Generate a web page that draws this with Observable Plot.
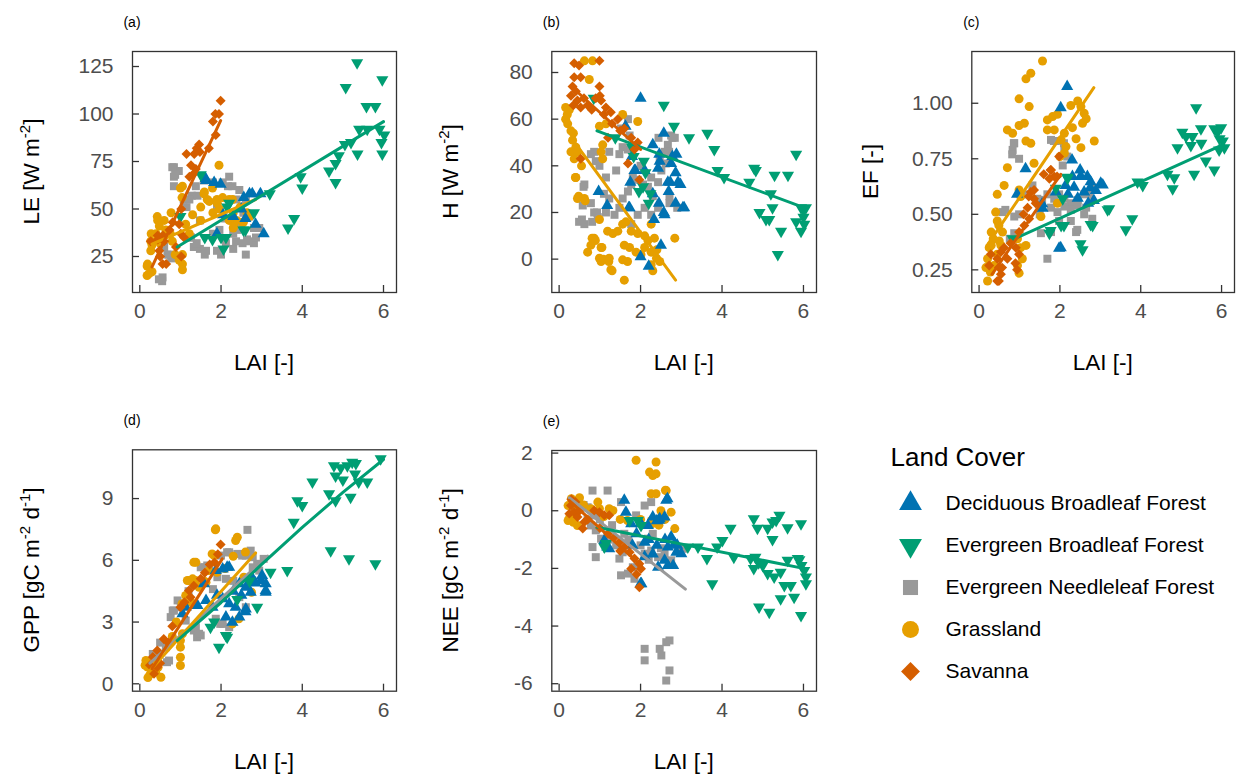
<!DOCTYPE html>
<html><head><meta charset="utf-8">
<script src="https://cdn.jsdelivr.net/npm/d3@7"></script>
<script src="https://cdn.jsdelivr.net/npm/@observablehq/plot@0.6"></script>
<style>
body{margin:0;background:#fff;}
#fig{position:relative;width:1236px;height:775px;font-family:"Liberation Sans",Arial,sans-serif;}
.cell{position:absolute;}
</style></head><body><div id="fig"></div>
<script>
// ---------- categories / styles ----------
const landCovers = ["Deciduous Broadleaf Forest","Evergreen Broadleaf Forest","Evergreen Needleleaf Forest","Grassland","Savanna"];
const coverColors = ["#0072B2","#009E73","#999999","#E69F00","#D55E00"];
const coverSymbols = ["triangle","triangle","square","circle","diamond2"];
const coverRotate = [0,180,0,0,0];
const drawOrder = [2,3,0,1,4];
const xTicks = [0,2,4,6];
const xDomain = [-0.18, 6.32];

// ---------- (a) LE ----------
const dbfLE = [[1.62,66],[1.63,65],[1.83,64],[1.99,63],[2.77,58],[2.97,58],[2.7,58],[2.56,56],[3.05,37],[1.9,37],[2.3,46],[2.5,50],[2.85,42],[2.05,47],[2.6,45]];
const ebfLE = [[5.35,127],[5.07,114],[5.97,118],[5.58,104],[5.8,104],[5.4,92],[5.6,92],[5.9,92],[6.02,89],[5.95,85],[5.97,79],[5.36,79],[5.2,85],[5.05,84],[3.96,67],[4.0,61],[4.66,70],[4.82,74],[4.82,64],[3.65,40],[3.8,45],[3.2,58],[2.81,48],[2.6,39],[2.15,51],[2.06,29],[1.6,35],[2.0,35],[1.0,46],[1.5,68],[2.2,53],[2.55,39],[1.79,34],[2.12,35],[4.9,78]];
const enfLE = [[0.84,72],[0.84,67],[0.84,62],[0.96,70],[0.8,72],[0.87,68],[1.58,65],[1.8,64],[2.2,67],[2.17,62],[2.04,64],[2.28,62],[2.45,60],[2.61,55],[1.08,55],[1.15,51],[1.38,62],[1.42,57],[1.28,57],[1.22,55],[1.48,44],[1.33,30],[1.48,29],[1.6,26],[1.9,28],[2.0,26],[2.3,29],[1.25,35],[1.4,32],[1.8,37],[1.96,39],[2.3,37],[2.4,39],[2.64,34],[2.81,32],[2.81,40],[2.7,46],[2.55,48],[2.38,55],[1.9,51],[0.55,12],[0.47,13],[0.68,26],[0.77,24],[0.6,30],[1.26,35],[1.63,28],[2.12,32],[2.37,33],[2.53,32],[2.69,33],[2.86,35],[2.94,40],[2.61,26],[0.72,26],[0.56,14],[2.1,45],[2.5,40]];
const graLE = [[0.18,15],[0.3,17],[0.18,20],[0.19,21],[0.23,16],[0.43,46],[0.6,44],[0.77,48],[1.0,61],[1.04,56],[1.05,62],[1.95,73],[1.58,58],[1.59,59],[1.66,55],[1.9,55],[1.3,47],[1.5,51],[1.8,48],[1.96,50],[2.3,48],[2.47,51],[2.64,48],[2.3,40],[2.38,44],[2.55,43],[2.2,55],[1.71,54],[1.91,53],[1.79,61],[2.04,56],[2.28,55],[2.2,44],[2.32,41],[2.53,43],[1.05,26],[1.05,21],[1.05,18],[0.87,26],[0.28,37],[0.4,37],[0.3,31],[0.5,32],[0.75,37],[1.13,42],[1.22,37],[0.44,44],[0.48,41],[0.64,39],[0.27,33],[0.27,28],[0.97,23],[0.8,33],[1.5,44],[2.7,46]];
const savLE = [[1.99,107],[1.95,100],[1.86,100],[1.8,96],[1.87,89],[1.7,82],[1.4,82],[1.48,80],[1.15,79],[1.34,79],[1.46,84],[1.38,71],[1.3,68],[1.26,73],[1.22,67],[1.02,50],[0.81,43],[0.73,39],[0.57,36],[0.97,42],[1.01,37],[0.6,33],[0.44,34],[0.27,33],[0.48,28],[0.56,21],[0.89,30],[1.09,35],[0.5,25],[0.65,21],[1.02,25],[0.44,36]];
const fitEbfLE = [[0.92,30],[6.0,96]];
const fitGraLE = [[0.3,31.5],[2.85,55]];
const fitSavLE = [[0.3,19.5],[1.99,96.5]];

// ---------- (b) H ----------
const dbfH = [[2.0,69],[2.57,54],[1.63,57],[2.3,49],[2.46,45],[2.78,44],[2.86,37],[2.98,32],[2.73,33],[2.69,29],[3.07,22],[2.86,24],[1.75,33],[1.87,38],[1.79,44],[0.97,29],[1.18,23],[1.71,22],[2.45,24],[2.57,20],[2.33,17],[2.0,1],[2.2,-3],[2.88,45],[2.75,41],[2.47,42],[2.43,39],[1.85,38],[2.1,38],[2.67,33],[2.92,33],[3.04,22],[2.59,19],[1.73,22],[2.5,6],[2.3,28]];
const ebfH = [[2.57,66],[2.82,57],[3.19,52],[3.64,54],[3.81,47],[3.89,38],[4.05,35],[4.67,33],[4.79,39],[4.83,38],[5.2,28],[5.29,36],[5.62,36],[5.82,45],[4.92,20],[5.08,17],[5.16,17],[5.24,22],[5.45,12],[5.37,2],[5.94,22],[6.06,22],[6.0,18],[5.82,16],[5.94,12],[6.02,15],[1.79,48],[1.83,44],[2.08,42],[2.12,37],[1.96,29],[2.24,28],[2.2,24],[0.85,69],[1.38,52],[2.06,31],[6.0,21]];
const enfH = [[1.69,60],[1.52,56],[1.73,53],[1.69,47],[0.86,46],[0.9,42],[0.99,40],[1.15,35],[0.62,32],[0.58,23],[0.49,16],[0.62,15],[0.78,24],[0.86,20],[0.95,18],[1.15,20],[1.23,26],[1.36,19],[1.48,22],[1.56,26],[1.69,29],[1.77,32],[1.81,35],[1.93,34],[2.06,32],[2.18,31],[2.26,35],[2.43,33],[2.51,38],[2.47,42],[2.59,46],[2.67,49],[2.75,53],[2.84,52],[2.1,22],[2.26,19],[2.43,22],[1.93,19],[1.77,15],[2.71,24],[2.71,27],[0.78,45],[1.23,46],[1.48,45],[1.56,48],[0.6,31],[0.56,17],[0.81,16],[0.93,20],[2.78,52],[2.7,46],[2.62,41],[2.9,22],[2.44,52],[2.0,40],[1.4,38],[1.1,28],[2.3,27]];
const graH = [[0.62,85],[0.82,85],[0.74,77],[0.16,65],[0.25,64],[0.16,60],[0.21,58],[0.29,55],[0.33,51],[0.41,48],[0.29,46],[0.37,43],[0.45,46],[0.41,35],[0.45,26],[0.62,26],[0.99,17],[1.07,49],[1.03,46],[1.07,43],[1.15,58],[0.99,57],[1.56,62],[1.93,59],[0.78,6],[0.86,9],[0.7,3],[1.03,5],[0.99,0.4],[1.03,-1],[1.23,0.4],[1.27,-4.5],[1.19,12],[1.32,11],[1.44,12],[1.56,15],[1.64,16],[1.77,12],[1.93,11],[1.6,6],[1.73,5],[1.89,3],[2.01,2],[1.56,-0.3],[1.68,-1],[2.1,10],[2.18,8],[2.26,15],[2.34,9],[2.26,3],[2.39,0.4],[2.47,-1],[2.26,-2.4],[2.3,-5],[2.84,9],[1.6,-9],[1.09,0],[1.22,-1],[1.3,-5],[0.81,9],[0.89,8],[1.05,5],[0.48,27],[0.64,25],[0.4,35],[0.2,62],[0.35,54],[0.55,40],[2.1,5],[2.4,4]];
const savH = [[0.37,84],[0.49,83],[0.99,85],[0.37,78],[0.53,78],[0.33,74],[0.41,72],[0.29,70],[0.99,74],[0.61,69],[0.7,66],[0.53,65],[0.9,69],[1.03,68],[1.15,65],[1.27,63],[1.44,60],[1.6,56],[1.77,52],[1.93,50],[1.69,41],[1.97,34],[0.53,43],[0.45,68],[0.8,64],[1.1,62],[1.3,58],[1.5,55],[1.2,52],[1.85,47],[1.0,70],[0.35,66]];
const fitEbfH = [[0.93,55],[6.03,22]];
const fitGraH = [[0.3,52],[2.86,-9]];
const fitSavH = [[0.3,74],[2.0,47]];

// ---------- (c) EF ----------
const dbfEF = [[2.18,1.075],[2.02,0.98],[1.15,0.705],[0.94,0.59],[2.02,0.35],[2.31,0.67],[2.51,0.67],[2.68,0.67],[2.76,0.647],[3.01,0.64],[2.89,0.607],[2.84,0.562],[1.56,0.547],[2.35,0.622],[2.14,0.63],[2.3,0.745],[2.52,0.67],[3.06,0.632],[2.44,0.572],[1.57,0.527],[1.98,0.347],[2.6,0.6],[2.7,0.55],[2.2,0.59],[1.9,0.6],[2.5,0.7],[2.75,0.62]];
const ebfEF = [[5.37,0.98],[5.49,0.885],[5.03,0.87],[5.12,0.85],[5.28,0.85],[5.24,0.81],[4.91,0.8],[5.82,0.885],[5.9,0.87],[5.99,0.89],[6.03,0.83],[6.07,0.8],[5.94,0.79],[5.82,0.7],[5.61,0.74],[5.32,0.68],[4.66,0.68],[4.83,0.665],[4.79,0.615],[3.92,0.645],[4.05,0.63],[3.22,0.525],[3.79,0.48],[3.63,0.43],[2.76,0.454],[2.51,0.367],[2.1,0.45],[2.18,0.667],[1.77,0.427],[2.19,0.662],[1.9,0.617],[2.07,0.57],[2.03,0.45],[1.74,0.415],[2.56,0.34],[3.18,0.52],[2.81,0.45],[0.83,0.39],[5.5,0.82],[5.95,0.84]];
const enfEF = [[0.87,0.82],[0.83,0.79],[0.99,0.75],[1.78,0.835],[1.9,0.83],[2.11,0.8],[2.07,0.72],[0.58,0.51],[0.87,0.49],[0.99,0.5],[1.2,0.59],[1.32,0.63],[1.44,0.57],[1.56,0.565],[1.69,0.59],[1.86,0.57],[1.98,0.59],[2.11,0.57],[2.27,0.55],[2.44,0.565],[2.6,0.59],[2.72,0.595],[2.85,0.62],[1.78,0.53],[1.94,0.51],[2.11,0.535],[2.27,0.52],[2.44,0.54],[2.65,0.53],[2.77,0.56],[1.53,0.415],[1.78,0.42],[1.98,0.47],[2.4,0.42],[2.27,0.47],[1.69,0.3],[0.76,0.39],[0.87,0.415],[0.86,0.82],[0.82,0.77],[2.43,0.43],[1.85,0.83],[2.1,0.82],[2.18,0.76],[0.65,0.52],[1.5,0.5],[2.6,0.5],[2.8,0.48]];
const graEF = [[1.57,1.19],[1.28,1.135],[1.16,1.11],[0.99,1.02],[1.24,0.985],[0.7,0.88],[0.83,0.865],[0.99,0.9],[1.12,0.91],[1.16,0.83],[1.28,0.82],[1.36,0.73],[0.7,0.71],[0.62,0.63],[0.45,0.59],[0.41,0.51],[0.45,0.47],[0.3,0.42],[0.35,0.39],[0.25,0.35],[0.21,0.3],[0.17,0.26],[0.21,0.2],[1.69,0.925],[1.82,0.94],[1.94,0.95],[1.69,0.88],[1.86,0.88],[2.27,0.99],[2.44,1.01],[2.52,0.985],[2.6,0.955],[2.65,0.93],[2.56,0.91],[2.31,0.89],[2.85,0.83],[2.11,0.865],[2.03,0.835],[2.15,0.805],[2.52,0.8],[2.11,0.775],[1.53,0.49],[1.94,0.55],[0.99,0.61],[1.03,0.58],[0.95,0.39],[1.03,0.35],[1.16,0.36],[1.07,0.3],[0.95,0.27],[0.99,0.235],[0.49,0.45],[0.58,0.42],[0.54,0.36],[0.45,0.32],[0.37,0.27],[2.0,0.76],[2.4,0.84],[0.3,0.36],[0.5,0.38],[0.28,0.24]];
const savEF = [[1.98,0.76],[1.78,0.7],[1.86,0.67],[1.74,0.66],[1.28,0.6],[1.36,0.57],[1.2,0.53],[1.24,0.48],[1.12,0.45],[0.99,0.42],[0.62,0.35],[0.54,0.33],[0.45,0.3],[0.49,0.26],[0.54,0.23],[0.49,0.2],[0.29,0.32],[0.25,0.27],[0.91,0.35],[0.99,0.32],[0.45,0.2],[0.57,0.26],[0.9,0.28],[0.94,0.25],[0.78,0.37],[1.36,0.61],[1.23,0.58],[1.6,0.68],[1.77,0.7],[1.93,0.67],[1.4,0.55],[1.1,0.5],[0.7,0.3]];
const fitEbfEF = [[0.88,0.39],[6.05,0.815]];
const fitGraEF = [[0.2,0.36],[2.84,1.07]];
const fitSavEF = [[0.32,0.23],[2.02,0.68]];

// ---------- (d) GPP ----------
const dbfGPP = [[2.2,5.66],[2.04,5.58],[1.87,5.5],[2.45,4.86],[2.61,4.69],[2.73,4.45],[2.78,5.1],[2.98,5.02],[3.1,4.86],[3.1,4.45],[2.04,4.13],[2.2,3.89],[2.36,3.72],[2.12,3.24],[2.28,2.99],[2.45,3.24],[1.05,3.4],[1.13,3.72],[1.42,3.8],[1.63,4.05],[1.79,3.72],[2.61,3.64],[3.01,5.26],[3.1,4.53],[2.15,5.66],[1.58,4.86],[2.6,3.5],[2.5,4.3],[2.85,4.9],[2.3,4.5],[1.9,4.3]];
const ebfGPP = [[4.78,10.6],[4.95,10.5],[5.11,10.6],[5.23,10.76],[5.32,10.7],[4.82,10.1],[5.39,9.8],[5.6,9.8],[5.93,10.93],[4.25,9.8],[4.66,9.23],[4.82,8.9],[5.19,9.06],[3.88,8.9],[4.0,8.66],[3.79,7.85],[4.7,6.47],[5.15,6.07],[5.8,5.83],[3.63,5.5],[3.22,5.42],[2.89,3.72],[1.74,2.75],[2.15,2.26],[1.95,1.78],[1.83,3.0],[2.12,2.35],[2.7,5.0],[2.4,4.1],[5.3,10.2],[5.0,9.9]];
const enfGPP = [[2.65,7.48],[2.15,6.39],[2.4,6.31],[2.52,6.23],[2.73,6.47],[1.5,5.66],[1.66,5.75],[0.84,3.56],[0.76,3.24],[1.41,2.26],[1.5,2.35],[1.33,2.59],[0.67,1.05],[1.98,2.91],[2.89,5.83],[3.05,6.07],[2.45,6.31],[2.61,6.23],[2.78,6.15],[2.2,6.39],[2.0,6.23],[1.59,5.66],[1.71,5.58],[1.91,5.18],[2.12,5.1],[0.93,4.05],[0.81,3.56],[1.01,3.72],[1.13,3.07],[1.38,2.75],[1.46,2.43],[1.87,3.16],[2.04,2.91],[2.2,2.75],[2.45,4.21],[2.61,3.72],[0.64,1.78],[0.72,1.13],[0.4,1.13],[0.32,1.45],[2.78,5.66],[2.94,5.5],[1.2,4.5],[1.8,4.6],[2.3,5.0],[0.5,2.0]];
const graGPP = [[1.86,7.48],[2.4,7.12],[2.36,6.96],[1.78,6.31],[1.9,5.42],[1.33,5.9],[1.21,5.02],[1.37,5.02],[1.04,3.89],[1.0,2.1],[1.0,1.78],[1.0,1.29],[1.0,0.89],[2.44,3.16],[2.28,2.91],[2.56,5.18],[2.6,6.4],[1.58,5.0],[1.87,7.53],[1.83,6.23],[1.38,5.9],[1.17,5.02],[1.3,5.1],[1.46,4.69],[1.63,4.93],[1.13,4.29],[1.26,3.96],[1.05,2.43],[0.15,1.13],[0.19,0.81],[0.27,0.49],[0.39,0.56],[0.52,0.32],[2.75,4.45],[0.13,0.9],[0.2,0.3],[0.3,1.0],[0.45,0.8],[2.1,5.6],[2.3,6.2],[0.8,2.3],[0.9,3.0],[1.7,5.5]];
const savGPP = [[1.99,6.77],[1.84,5.9],[1.72,5.8],[1.92,6.3],[1.33,4.77],[1.21,4.53],[1.0,3.72],[1.1,3.96],[0.59,2.18],[0.43,1.62],[0.32,1.3],[0.43,0.81],[0.35,0.49],[1.5,5.1],[1.6,5.4],[0.8,2.8],[1.25,4.2],[0.25,0.9],[0.5,1.0],[0.7,2.0]];
const fitEbfGPP = [[0.92,2.1],[2,3.95],[3,5.8],[4,7.6],[5,9.3],[6.0,10.9]];
const fitEnfGPP = [[0.25,1.0],[3.15,6.2]];
const fitGraGPP = [[0.18,0.49],[2.85,6.36]];
const fitSavGPP = [[0.3,0.73],[2.03,6.07]];

// ---------- (e) NEE ----------
const dbfNEE = [[1.6,0.36],[1.64,-0.05],[2.63,0.36],[2.3,-0.22],[2.47,-0.28],[1.77,-0.45],[2.01,-0.45],[2.18,-0.51],[2.59,-0.22],[2.75,-0.91],[2.84,-1.14],[2.67,-1.26],[2.88,-1.44],[3.0,-1.49],[2.59,-1.72],[2.67,-1.9],[2.8,-1.9],[2.43,-1.96],[2.02,-2.53],[1.11,-1.03],[1.23,-1.32],[2.1,-1.09],[2.66,0.42],[2.0,-2.53],[1.18,-1.26],[2.45,-0.33],[2.4,-0.35],[1.9,-0.8],[2.2,-1.0],[2.4,-1.2],[2.6,-1.0],[2.9,-1.2],[2.3,-1.5],[1.8,-1.2],[2.1,-1.6]];
const ebfNEE = [[4.78,-0.28],[5.41,-0.16],[5.33,-0.34],[5.24,-0.39],[5.61,-0.59],[5.94,-0.45],[5.12,-0.61],[4.87,-0.61],[5.24,-1.0],[4.21,-0.61],[4.01,-1.03],[3.88,-1.26],[3.63,-1.66],[4.29,-1.61],[3.76,-2.53],[4.7,-1.66],[4.82,-1.61],[4.78,-2.0],[5.12,-2.18],[5.28,-2.3],[5.44,-2.13],[5.61,-1.72],[5.86,-1.66],[6.02,-2.07],[6.06,-2.3],[6.06,-2.53],[5.53,-2.59],[5.69,-2.59],[5.44,-3.05],[5.77,-3.0],[4.91,-3.34],[5.16,-3.52],[5.94,-3.63],[1.73,-0.34],[1.93,-0.34],[2.01,-0.51],[1.15,-1.14],[1.11,-1.26],[3.16,-1.26],[3.41,-1.26],[4.9,-1.8],[5.0,-1.9],[5.9,-1.7],[5.95,-1.9]];
const enfNEE = [[0.82,0.7],[1.19,0.7],[1.52,0.3],[1.89,-0.16],[2.1,0.18],[2.26,0.3],[0.49,0.36],[0.7,0.12],[0.86,-0.16],[0.78,-0.51],[0.9,-0.68],[0.82,-1.26],[0.9,-1.61],[1.03,-0.97],[1.48,-1.66],[1.56,-1.44],[1.52,-2.24],[1.69,-2.18],[1.81,-1.96],[1.93,-1.9],[1.85,-2.36],[2.1,-1.49],[2.26,-1.38],[2.43,-1.61],[2.59,-1.49],[2.75,-1.72],[2.92,-1.38],[3.04,-1.32],[2.18,-0.97],[2.3,-0.8],[2.1,-4.79],[2.1,-5.19],[2.47,-4.79],[2.51,-5.02],[2.63,-4.56],[2.71,-4.5],[2.71,-5.54],[2.63,-5.89],[0.6,0.2],[0.7,-0.3],[1.0,-0.3],[1.3,-0.5],[1.2,-1.0],[1.6,-0.8],[1.4,-1.2],[2.0,-1.2],[2.2,-1.7],[2.5,-1.3],[0.4,0.1],[1.7,-1.0]];
const graNEE = [[1.89,1.75],[2.38,1.69],[2.22,1.34],[2.3,1.22],[2.38,1.28],[2.63,0.7],[2.38,0.59],[2.26,0.59],[2.75,-0.05],[2.84,-0.62],[2.51,-0.22],[2.38,-0.39],[0.3,0.42],[0.22,0.18],[0.26,-0.22],[0.22,-0.34],[0.45,-0.51],[0.78,0.07],[0.95,0.3],[0.99,0.07],[1.23,0.07],[1.32,0.01],[1.68,-0.34],[2.27,-0.34],[2.61,0.71],[2.45,-0.5],[2.28,-0.45],[0.5,0.45],[0.6,0.2],[0.4,0.05],[1.1,-0.2],[1.5,-0.3],[2.0,-0.3],[2.6,-0.3],[0.35,-0.4],[2.5,0.0]];
const savNEE = [[0.29,0.18],[0.37,-0.05],[0.45,-0.22],[0.58,-0.62],[0.62,-0.39],[0.86,0.01],[0.99,-0.05],[1.11,-0.16],[1.23,-0.16],[1.36,-0.91],[1.48,-1.09],[1.6,-1.26],[1.73,-1.44],[1.85,-1.66],[1.97,-1.84],[1.77,-2.01],[2.01,-2.01],[1.97,-2.65],[0.3,0.4],[0.4,0.3],[0.5,0.0],[0.7,-0.3],[1.0,-0.6],[1.2,-0.8],[0.25,-0.1],[1.5,-1.4],[1.9,-2.2]];
const fitEbfNEE = [[0.93,-0.57],[6.0,-2.0]];
const fitEnfNEE = [[0.25,0.45],[3.1,-2.72]];
const fitSavNEE = [[0.25,0.35],[2.02,-1.9]];

// ---------- panel definitions ----------
const panels = [
  {tag:"(a)", left:0, top:0, width:412, height:388, mL:132, mR:16, mT:51, mB:96,
   yDomain:[6.05,132.9], yTicks:[25,50,75,100,125], fmt:d=>String(d), title:["LE [W m","-2","]"],
   groups:[dbfLE,ebfLE,enfLE,graLE,savLE], fits:[[3,fitGraLE],[1,fitEbfLE],[4,fitSavLE]]},
  {tag:"(b)", left:412, top:0, width:412, height:388, mL:139.3, mR:8, mT:51, mB:96,
   yDomain:[-14.3,89], yTicks:[0,20,40,60,80], fmt:d=>String(d), title:["H [W m","-2","]"],
   groups:[dbfH,ebfH,enfH,graH,savH], fits:[[3,fitGraH],[1,fitEbfH],[4,fitSavH]]},
  {tag:"(c)", left:824, top:0, width:412, height:388, mL:147.3, mR:2, mT:51, mB:96,
   yDomain:[0.148,1.233], yTicks:[0.25,0.5,0.75,1.0], fmt:d=>d.toFixed(2), title:["EF [-]"],
   groups:[dbfEF,ebfEF,enfEF,graEF,savEF], fits:[[3,fitGraEF],[1,fitEbfEF],[4,fitSavEF]]},
  {tag:"(d)", left:0, top:388, width:412, height:387, mL:132, mR:16, mT:61.3, mB:84.3,
   yDomain:[-0.36,11.37], yTicks:[0,3,6,9], fmt:d=>String(d), title:["GPP [gC m","-2"," d","-1","]"],
   groups:[dbfGPP,ebfGPP,enfGPP,graGPP,savGPP], fits:[[2,fitEnfGPP],[3,fitGraGPP],[1,fitEbfGPP],[4,fitSavGPP]]},
  {tag:"(e)", left:412, top:388, width:412, height:387, mL:139.3, mR:8, mT:62, mB:84.3,
   yDomain:[-6.26,2.09], yTicks:[-6,-4,-2,0,2], fmt:d=>String(d), title:["NEE [gC m","-2"," d","-1","]"],
   groups:[dbfNEE,ebfNEE,enfNEE,graNEE,savNEE], fits:[[2,fitEnfNEE],[1,fitEbfNEE],[4,fitSavNEE]]}
];

const fig = document.getElementById("fig");
const FONT = "'Liberation Sans', Arial, sans-serif";

for (const p of panels) {
  const fw = p.width - p.mL - p.mR;
  const fh = p.height - p.mT - p.mB;
  const marks = [];
  for (const gi of drawOrder) {
    marks.push(Plot.dot(p.groups[gi], {x: d => d[0], y: d => d[1], fill: coverColors[gi],
      symbol: coverSymbols[gi], rotate: coverRotate[gi], r: 4.5, stroke: "none"}));
  }
  for (const [gi, pts] of p.fits) {
    marks.push(Plot.line(pts, {x: d => d[0], y: d => d[1], stroke: coverColors[gi], strokeWidth: 3}));
  }
  marks.push(Plot.frame({stroke: "#333333", strokeWidth: 1.3}));
  marks.push(Plot.tickY(p.yTicks, {y: d => d, insetRight: fw - 7, stroke: "#333333", strokeWidth: 1.3}));
  marks.push(Plot.tickX(xTicks, {x: d => d, insetTop: fh - 7, stroke: "#333333", strokeWidth: 1.3}));
  marks.push(Plot.axisY({ticks: p.yTicks, tickSize: 0, tickPadding: 19, tickFormat: p.fmt, fontSize: 21, color: "#4d4d4d", label: null}));
  marks.push(Plot.axisX({ticks: xTicks, tickSize: 0, tickPadding: 11, tickFormat: d => String(d), fontSize: 21, color: "#4d4d4d", label: null}));
  const svg = Plot.plot({
    width: p.width, height: p.height,
    marginLeft: p.mL, marginRight: p.mR, marginTop: p.mT, marginBottom: p.mB,
    style: {fontFamily: FONT, background: "transparent", overflow: "visible"},
    x: {domain: xDomain},
    y: {domain: p.yDomain},
    marks
  });
  const cell = document.createElement("div");
  cell.className = "cell";
  cell.style.left = p.left + "px";
  cell.style.top = p.top + "px";
  cell.appendChild(svg);
  fig.appendChild(cell);

  const s = d3.select(svg);
  // panel tag
  s.append("text").attr("x", p.mL).attr("y", p.mT - 24).attr("font-size", 14).attr("fill", "#000")
    .attr("font-family", FONT).text(p.tag);
  // x title
  s.append("text").attr("x", p.mL + fw / 2).attr("y", p.mT + fh + 78).attr("text-anchor", "middle")
    .attr("font-size", 22.5).attr("fill", "#000").attr("font-family", FONT).text("LAI [-]");
  // y title with superscripts
  const t = s.append("text").attr("transform", `translate(${p.mL - 93},${p.mT + fh / 2}) rotate(-90)`)
    .attr("text-anchor", "middle").attr("font-size", 22.5).attr("fill", "#000").attr("font-family", FONT);
  p.title.forEach((seg, i) => {
    const ts = t.append("tspan").text(seg);
    if (i % 2 === 1) ts.attr("font-size", 15).attr("dy", -9);
    else if (i > 0) ts.attr("dy", 9);
  });
}

// ---------- legend ----------
const legendSvg = Plot.plot({
  width: 376, height: 280, marginTop: 0, marginBottom: 0, marginLeft: 0, marginRight: 0,
  style: {fontFamily: FONT, background: "transparent", overflow: "visible"},
  y: {type: "point", domain: landCovers, range: [72, 241], padding: 0, axis: null},
  marks: [
    Plot.text(["Land Cover"], {frameAnchor: "top-left", dx: 30, dy: 17, text: d => d, fontSize: 26, fill: "#000", textAnchor: "start", lineAnchor: "top"}),
    Plot.dot(landCovers, {y: d => d, frameAnchor: "left", dx: 50, fill: (d, i) => coverColors[i],
      symbol: (d, i) => coverSymbols[i], rotate: (d, i) => coverRotate[i], r: 8.5, stroke: "none"}),
    Plot.text(landCovers, {y: d => d, frameAnchor: "left", dx: 85, text: d => d, fontSize: 21, fill: "#000", textAnchor: "start"})
  ],
  color: {type: "identity"},
  symbol: {type: "identity"}
});
const lc = document.createElement("div");
lc.className = "cell";
lc.style.left = "860px";
lc.style.top = "430px";
lc.appendChild(legendSvg);
fig.appendChild(lc);
</script></body></html>
